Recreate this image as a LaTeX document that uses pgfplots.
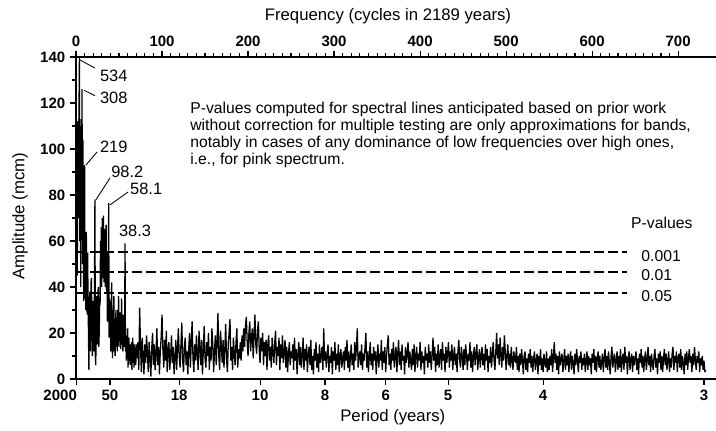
\documentclass[border=0pt]{standalone}
\usepackage{fontspec}
\setmainfont{Liberation Sans}
\usepackage{pgfplots}
\usepackage{pgfplotstable}
\pgfplotsset{compat=1.18}

% low-frequency part: frequency (cycles in 2189 years) and amplitude
\pgfplotstableread{
f a
1 80
1.5 45
2 112
2.5 70
3 100
3.5 118
4 140
4.5 60
5 108
5.5 40
6 113
6.5 75
7 126
7.5 50
8 104
8.5 65
9 34
9.5 60
10 93
10.5 35
11 58
11.5 30
12 64
12.5 40
13 28
13.5 55
14 35
14.5 20
15 4
15.5 30
16 38
16.5 12
17 30
17.5 42
18 44
18.5 15
19 10
19.5 32
20 34
20.5 12
21 26
21.5 40
22 78
22.5 10
23 6
23.5 30
24 36
24.5 15
25 18
25.5 38
26 40
26.5 14
27 20
27.5 35
28 32
28.5 60
29 45
29.5 66
30 40
30.5 70
31 44
31.5 62
32 71
32.5 42
33 58
33.5 65
34 40
34.5 63
35 67
35.5 38
36 55
36.5 25
37 40
37.5 30
38 76.5
38.5 18
39 35
39.5 22
40 34
40.5 12
41 28
41.5 42
42 15
42.5 9
43 30
43.5 20
44 36
44.5 12
45 26
45.5 10
46 24
46.5 30
47 14
47.5 22
48 12
48.5 30
49 18
49.5 36
50 14
50.5 24
51 17
51.5 29
52 13
52.5 22
53 35
53.5 15
54 20
54.5 12
55 28
55.5 18
56 24
56.5 14
57 59
57.5 12
58 19
58.5 8
59 16
59.5 10
60 22
60.5 5
61 14
61.5 18
62 8
62.5 12
63 6
63.5 15
64 9
64.5 16
65 4
65.5 12
66 18
66.5 7
67 13
67.5 5
68 15
68.5 9
69 12
69.5 6
70 15
70.5 10
}\low

% amplitude at frequency 71,72,73,...
\pgfplotstableread[row sep=\\]{
a\\
9\\ 16\\ 4\\ 31\\ 14\\ 3\\ 18\\ 10\\ 2\\ 15\\ 7\\ 19\\ 12\\ 3\\ 16\\ 9\\ 1\\ 13\\ 20\\ 6\\
15\\ 4\\ 11\\ 22\\ 6\\ 14\\ 2\\ 12\\ 18\\ 28\\ 13\\ 5\\ 17\\ 8\\ 21\\ 3\\ 12\\ 16\\ 4\\ 10\\
19\\ 7\\ 14\\ 2\\ 9\\ 17\\ 4\\ 13\\ 22\\ 10\\ 5\\ 15\\ 24.5\\ 8\\ 3\\ 14\\ 18\\ 6\\ 12\\ 2\\
13\\ 20\\ 5\\ 16\\ 25\\ 9\\ 3\\ 15\\ 8\\ 19\\ 11\\ 4\\ 21\\ 14\\ 6\\ 17\\ 2\\ 12\\ 23\\ 9\\
5\\ 16\\ 10\\ 20\\ 4\\ 14\\ 8\\ 22\\ 15\\ 3\\ 12\\ 19\\ 6\\ 16\\ 28.7\\ 10\\ 4\\ 21\\ 14\\ 7\\
17\\ 5\\ 13\\ 24\\ 9\\ 3\\ 15\\ 20\\ 26\\ 8\\ 14\\ 4\\ 18\\ 11\\ 6\\ 16\\ 22\\ 5\\ 13\\ 9\\
16\\ 8\\ 19\\ 12\\ 22\\ 14\\ 23\\ 27\\ 16\\ 10\\ 20\\ 25\\ 12\\ 18\\ 22\\ 9\\ 19\\ 28\\ 15\\ 11\\
21\\ 25\\ 13\\ 7\\ 18\\ 12\\ 20\\ 6\\ 16\\ 10\\ 17\\ 4\\ 15\\ 19\\ 8\\ 14\\ 5\\ 18\\ 12\\ 7\\
16\\ 21\\ 6\\ 14\\ 10\\ 18\\ 4\\ 15\\ 9\\ 19\\ 7\\ 12\\ 17\\ 5\\ 14\\ 3\\ 11\\ 16\\ 6\\ 12\\
9\\ 15\\ 4\\ 18\\ 8\\ 13\\ 2\\ 11\\ 16\\ 6\\ 14\\ 5\\ 10\\ 18\\ 4\\ 13\\ 8\\ 15\\ 3\\ 11\\
14\\ 6\\ 17\\ 4\\ 10\\ 2\\ 13\\ 8\\ 16\\ 5\\ 11\\ 3\\ 15\\ 7\\ 10\\ 14\\ 4\\ 22\\ 8\\ 12\\
5\\ 11\\ 15\\ 3\\ 10\\ 7\\ 14\\ 2\\ 12\\ 8\\ 16\\ 4\\ 11\\ 6\\ 15\\ 3\\ 10\\ 13\\ 5\\ 9\\
12\\ 4\\ 14\\ 8\\ 17\\ 5\\ 12\\ 3\\ 10\\ 15\\ 6\\ 11\\ 4\\ 16\\ 8\\ 14\\ 22\\ 5\\ 10\\ 12\\
6\\ 15\\ 4\\ 11\\ 8\\ 14\\ 20\\ 5\\ 12\\ 3\\ 10\\ 16\\ 6\\ 11\\ 4\\ 14\\ 8\\ 12\\ 2\\ 10\\
15\\ 5\\ 11\\ 8\\ 17\\ 4\\ 12\\ 7\\ 14\\ 3\\ 10\\ 15\\ 19\\ 6\\ 11\\ 4\\ 13\\ 8\\ 16\\ 5\\
10\\ 14\\ 3\\ 11\\ 17\\ 6\\ 12\\ 4\\ 15\\ 8\\ 10\\ 2\\ 14\\ 7\\ 11\\ 16\\ 5\\ 12\\ 8\\ 4\\
13\\ 6\\ 15\\ 3\\ 10\\ 14\\ 5\\ 11\\ 8\\ 16\\ 4\\ 12\\ 7\\ 10\\ 2\\ 14\\ 8\\ 11\\ 5\\ 15\\
7\\ 12\\ 4\\ 10\\ 18\\ 8\\ 14\\ 3\\ 11\\ 6\\ 15\\ 5\\ 10\\ 13\\ 4\\ 16\\ 8\\ 11\\ 3\\ 14\\
7\\ 11\\ 16\\ 5\\ 12\\ 8\\ 15\\ 4\\ 10\\ 14\\ 6\\ 11\\ 3\\ 12\\ 17\\ 8\\ 5\\ 14\\ 10\\ 4\\
13\\ 6\\ 15\\ 10\\ 4\\ 11\\ 8\\ 16\\ 5\\ 12\\ 3\\ 10\\ 14\\ 6\\ 11\\ 15\\ 4\\ 9\\ 13\\ 5\\
10\\ 14\\ 6\\ 11\\ 4\\ 15\\ 8\\ 13\\ 3\\ 10\\ 7\\ 14\\ 5\\ 11\\ 16\\ 8\\ 4\\ 12\\ 20\\ 9\\
15\\ 6\\ 18\\ 11\\ 5\\ 14\\ 8\\ 19\\ 12\\ 4\\ 10\\ 15\\ 6\\ 11\\ 5\\ 14\\ 8\\ 4\\ 12\\ 9\\
7\\ 14\\ 4\\ 10\\ 3\\ 11\\ 6\\ 13\\ 8\\ 2\\ 10\\ 12\\ 4\\ 9\\ 3\\ 11\\ 7\\ 13\\ 5\\ 10\\
3\\ 9\\ 12\\ 4\\ 8\\ 11\\ 2\\ 10\\ 6\\ 13\\ 4\\ 9\\ 3\\ 11\\ 7\\ 5\\ 12\\ 3\\ 9\\ 4\\
10\\ 6\\ 13\\ 3\\ 9\\ 16\\ 7\\ 11\\ 4\\ 10\\ 2\\ 12\\ 6\\ 9\\ 11\\ 3\\ 8\\ 13\\ 4\\ 10\\
6\\ 11\\ 3\\ 9\\ 12\\ 4\\ 10\\ 7\\ 2\\ 11\\ 6\\ 13\\ 8\\ 3\\ 10\\ 7\\ 12\\ 4\\ 9\\ 6\\
11\\ 3\\ 8\\ 12\\ 4\\ 10\\ 6\\ 9\\ 2\\ 11\\ 7\\ 13\\ 4\\ 10\\ 3\\ 9\\ 12\\ 5\\ 10\\ 4\\
7\\ 11\\ 3\\ 9\\ 13\\ 5\\ 10\\ 4\\ 12\\ 7\\ 2\\ 10\\ 14\\ 5\\ 9\\ 11\\ 3\\ 8\\ 12\\ 4\\
10\\ 5\\ 13\\ 3\\ 9\\ 11\\ 4\\ 14\\ 7\\ 10\\ 2\\ 9\\ 12\\ 4\\ 8\\ 11\\ 3\\ 10\\ 6\\ 9\\
12\\ 4\\ 9\\ 2\\ 11\\ 7\\ 13\\ 5\\ 10\\ 3\\ 9\\ 12\\ 4\\ 8\\ 14\\ 6\\ 10\\ 3\\ 11\\ 7\\
4\\ 10\\ 13\\ 5\\ 9\\ 2\\ 11\\ 7\\ 12\\ 4\\ 10\\ 3\\ 9\\ 13\\ 6\\ 11\\ 4\\ 8\\ 12\\ 3\\
9\\ 5\\ 11\\ 14\\ 4\\ 10\\ 7\\ 12\\ 3\\ 9\\ 11\\ 5\\ 13\\ 4\\ 10\\ 7\\ 2\\ 11\\ 6\\ 12\\
4\\ 9\\ 13\\ 7\\ 10\\ 3\\ 11\\ 6\\ 14\\ 8\\ 4\\ 10\\ 7\\ 12\\ 3\\ 9\\ 6\\ 10\\ 4\\ 8\\ 3\\ 4\\
}\spec

\pgfplotsset{
  common/.style={
    scale only axis, width=448pt, height=225.4pt,
    xmin=0, xmax=744, ymin=0, ymax=140,
    axis line style={line width=1.4pt},
    tick align=outside,
    major tick length=4pt, minor tick length=2.5pt,
    every tick/.append style={line width=0.8pt, black},
    tick label style={font=\fontsize{10.5}{12}\selectfont\bfseries},
    /pgf/number format/assume math mode=true,
    label style={font=\fontsize{11.7}{14}\selectfont},
    clip=false,
  }
}

\begin{document}
\begin{tikzpicture}
\begin{axis}[common,
  axis x line*=top, axis y line=none,
  xtick={0,100,...,700}, minor x tick num=9,
  ytick=\empty,
  xlabel={Frequency (cycles in 2189 years)},
  xlabel style={at={(axis description cs:0.4875,1.127)}, anchor=center},
]
\addplot[draw=none] coordinates {(0,0)};
\end{axis}

\begin{axis}[common,
  axis x line*=bottom, axis y line*=left,
  xtick={1,39.5,120,214,289.5,360,432.6,543,730},
  xticklabels={\makebox[0pt][r]{2000},50,18,10,8,6,5,4,3},
  ytick={0,20,...,140}, minor y tick num=1,
  xlabel={Period (years)}, ylabel={Amplitude (mcm)},
  xlabel style={at={(axis description cs:0.495,-0.118)}, anchor=center},
  ylabel style={at={(axis description cs:-0.0875,0.506)}, anchor=center},
]
\addplot[black, line width=0.9pt, line join=miter, miter limit=2] table[x=f, y=a] {\low};
\addplot[black, line width=0.9pt, line join=miter, miter limit=2] table[x expr=\coordindex+71, y=a] {\spec};

\addplot[black, line width=1.8pt, dash pattern=on 7pt off 2.8pt] coordinates {(0,55.3) (640,55.3)};
\addplot[black, line width=1.3pt, dash pattern=on 7pt off 2.8pt] coordinates {(0,46.5) (640,46.5)};
\addplot[black, line width=1.3pt, dash pattern=on 7pt off 2.8pt] coordinates {(0,37.5) (640,37.5)};

\begin{scope}[every node/.style={font=\fontsize{11.5}{13}\selectfont, inner sep=1pt}]
\draw[line width=0.6pt] (axis cs:4.7,138.7) -- (axis cs:22,135.2);
\node[anchor=west] at (axis cs:26,132) {534};
\draw[line width=0.6pt] (axis cs:9.5,125.5) -- (axis cs:22,123.2);
\node[anchor=west] at (axis cs:26,122.3) {308};
\draw[line width=0.6pt] (axis cs:11.5,93) -- (axis cs:24.4,98.7);
\node[anchor=west] at (axis cs:26,101) {219};
\draw[line width=0.6pt] (axis cs:23,77.8) -- (axis cs:39.5,87.4);
\node[anchor=west] at (axis cs:39,90) {98.2};
\draw[line width=0.6pt] (axis cs:39.5,75.7) -- (axis cs:60.5,81.3);
\node[anchor=west] at (axis cs:61,82.6) {58.1};
\node at (axis cs:68.6,64.3) {38.3};
\end{scope}

\node[anchor=north west, align=left, inner sep=0pt, font=\fontsize{11}{11.9}\selectfont]
  at (axis cs:132.6,120.6)
  {P-values computed for spectral lines anticipated based on prior work\\
   without correction for multiple testing are only approximations for bands,\\
   notably in cases of any dominance of low frequencies over high ones,\\
   i.e., for pink spectrum.};

\begin{scope}[every node/.style={font=\fontsize{11}{13}\selectfont, inner sep=0pt}]
\node at (axis cs:681,67.8) {P-values};
\node[anchor=west] at (axis cs:657,53.3) {0.001};
\node[anchor=west] at (axis cs:657,45.2) {0.01};
\node[anchor=west] at (axis cs:657,36.1) {0.05};
\end{scope}
\end{axis}

\pgfresetboundingbox
\path[use as bounding box] (-53.2pt,-35.7pt) rectangle (448pt,265.3pt);
\end{tikzpicture}
\end{document}
